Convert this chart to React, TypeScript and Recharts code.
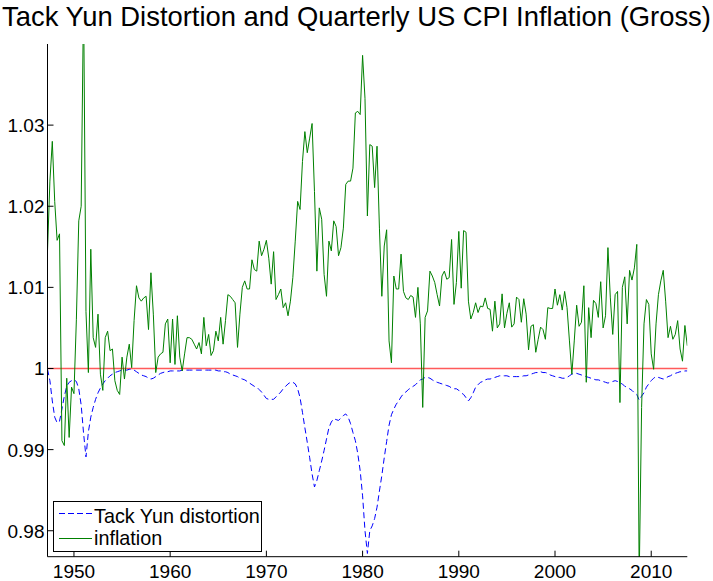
import React from 'react';
import { LineChart, Line, XAxis, YAxis, ReferenceLine, Legend } from 'recharts';

// quarterly observations, first one is 1947Q2
const startDate = 1947.25;

const inflation = [
  1.0145, 1.0231, 1.0280, 1.0206, 1.0158, 1.0166, 0.9911, 0.9905, 0.9988, 0.9915,
  0.9977, 0.9969, 1.0060, 1.0182, 1.0200, 1.0460, 1.0070, 0.9995, 1.0147, 1.0038,
  1.0026, 1.0067, 0.9993, 0.9973, 1.0038, 1.0046, 1.0022, 1.0024, 0.9985, 0.9973,
  0.9968, 1.0014, 0.9987, 1.0014, 1.0030, 1.0001, 1.0059, 1.0102, 1.0087, 1.0083,
  1.0087, 1.0089, 1.0048, 1.0118, 1.0067, 0.9995, 1.0014, 1.0018, 1.0020, 1.0055,
  1.0061, 1.0007, 1.0061, 1.0005, 1.0065, 1.0014, 0.9997, 1.0018, 1.0038, 1.0038,
  1.0036, 1.0030, 1.0024, 1.0032, 1.0018, 1.0063, 1.0028, 1.0042, 1.0016, 1.0022,
  1.0046, 1.0034, 1.0063, 1.0030, 1.0059, 1.0091, 1.0089, 1.0085, 1.0081, 1.0026,
  1.0067, 1.0100, 1.0108, 1.0098, 1.0098, 1.0134, 1.0122, 1.0120, 1.0157, 1.0139,
  1.0147, 1.0158, 1.0136, 1.0104, 1.0144, 1.0085, 1.0091, 1.0098, 1.0075, 1.0081,
  1.0065, 1.0083, 1.0112, 1.0157, 1.0206, 1.0196, 1.0255, 1.0292, 1.0266, 1.0284,
  1.0302, 1.0218, 1.0120, 1.0198, 1.0184, 1.0116, 1.0089, 1.0157, 1.0145, 1.0182,
  1.0175, 1.0139, 1.0149, 1.0173, 1.0227, 1.0231, 1.0231, 1.0247, 1.0315, 1.0317,
  1.0313, 1.0386, 1.0333, 1.0188, 1.0276, 1.0274, 1.0223, 1.0274, 1.0173, 1.0089,
  1.0151, 1.0171, 1.0034, 1.0007, 1.0114, 1.0098, 1.0098, 1.0141, 1.0095, 1.0087,
  1.0085, 1.0090, 1.0088, 1.0063, 1.0100, 1.0055, 0.9952, 1.0063, 1.0071, 1.0120,
  1.0114, 1.0106, 1.0091, 1.0077, 1.0114, 1.0120, 1.0110, 1.0112, 1.0159, 1.0079,
  1.0106, 1.0169, 1.0099, 1.0170, 1.0168, 1.0083, 1.0061, 1.0069, 1.0081, 1.0069,
  1.0077, 1.0076, 1.0087, 1.0074, 1.0073, 1.0046, 1.0083, 1.0050, 1.0055, 1.0092,
  1.0050, 1.0068, 1.0081, 1.0051, 1.0055, 1.0088, 1.0085, 1.0057, 1.0086, 1.0067,
  1.0023, 1.0052, 1.0054, 1.0020, 1.0036, 1.0051, 1.0048, 1.0036, 1.0075, 1.0074,
  1.0074, 1.0098, 1.0078, 1.0091, 1.0072, 1.0095, 1.0075, 1.0034, 0.9993, 1.0034,
  1.0078, 1.0052, 1.0057, 1.0102, 0.9983, 1.0075, 1.0038, 1.0084, 1.0080, 1.0063,
  1.0107, 1.0050, 1.0065, 1.0149, 1.0087, 1.0042, 1.0091, 1.0095, 0.9958, 1.0100,
  1.0113, 1.0055, 1.0121, 1.0109, 1.0124, 1.0153, 0.9740, 0.9952, 1.0055, 1.0085,
  1.0079, 1.0018, 0.9999, 1.0055, 1.0091, 1.0108, 1.0121, 1.0083, 1.0038, 1.0052,
  1.0036, 1.0042, 1.0059, 1.0024, 1.0009, 1.0053, 1.0028,
];

const distortion = [
  0.9999, 0.9985, 0.9960, 0.9940, 0.9933, 0.9935, 0.9950, 0.9966, 0.9978, 0.9983,
  0.9985, 0.9986, 0.9984, 0.9975, 0.9955, 0.9920, 0.9891, 0.9922, 0.9940, 0.9952,
  0.9962, 0.9970, 0.9976, 0.9981, 0.9985, 0.9988, 0.9991, 0.9993, 0.9995, 0.9996,
  0.9997, 0.9998, 0.9998, 0.9998, 0.9999, 0.9999, 0.9998, 0.9996, 0.9994, 0.9992,
  0.9991, 0.9990, 0.9988, 0.9987, 0.9988, 0.9990, 0.9992, 0.9994, 0.9995, 0.9996,
  0.9996, 0.9997, 0.9997, 0.9997, 0.9997, 0.9997, 0.9998, 0.9998, 0.9998, 0.9998,
  0.9998, 0.9998, 0.9998, 0.9998, 0.9998, 0.9998, 0.9998, 0.9998, 0.9998, 0.9998,
  0.9998, 0.9997, 0.9997, 0.9996, 0.9996, 0.9995, 0.9993, 0.9992, 0.9991, 0.9990,
  0.9988, 0.9987, 0.9986, 0.9984, 0.9982, 0.9980, 0.9978, 0.9977, 0.9974, 0.9971,
  0.9967, 0.9963, 0.9962, 0.9962, 0.9962, 0.9965, 0.9968, 0.9971, 0.9975, 0.9978,
  0.9981, 0.9983, 0.9983, 0.9981, 0.9975, 0.9964, 0.9946, 0.9927, 0.9909, 0.9890,
  0.9870, 0.9854, 0.9862, 0.9874, 0.9886, 0.9899, 0.9913, 0.9927, 0.9934, 0.9938,
  0.9937, 0.9936, 0.9939, 0.9942, 0.9944, 0.9940, 0.9932, 0.9921, 0.9911, 0.9895,
  0.9874, 0.9843, 0.9800, 0.9772, 0.9800, 0.9806, 0.9815, 0.9829, 0.9849, 0.9868,
  0.9890, 0.9910, 0.9930, 0.9943, 0.9950, 0.9956, 0.9960, 0.9965, 0.9969, 0.9971,
  0.9974, 0.9976, 0.9978, 0.9980, 0.9983, 0.9986, 0.9987, 0.9989, 0.9989, 0.9988,
  0.9986, 0.9984, 0.9983, 0.9982, 0.9981, 0.9980, 0.9979, 0.9978, 0.9976, 0.9975,
  0.9975, 0.9973, 0.9970, 0.9968, 0.9964, 0.9960, 0.9964, 0.9970, 0.9977, 0.9980,
  0.9983, 0.9984, 0.9986, 0.9987, 0.9987, 0.9988, 0.9989, 0.9990, 0.9991, 0.9991,
  0.9991, 0.9991, 0.9990, 0.9990, 0.9990, 0.9990, 0.9990, 0.9990, 0.9991, 0.9991,
  0.9992, 0.9993, 0.9994, 0.9995, 0.9995, 0.9996, 0.9995, 0.9995, 0.9994, 0.9992,
  0.9991, 0.9990, 0.9989, 0.9989, 0.9988, 0.9988, 0.9989, 0.9991, 0.9993, 0.9994,
  0.9994, 0.9993, 0.9992, 0.9991, 0.9990, 0.9989, 0.9988, 0.9987, 0.9986, 0.9986,
  0.9985, 0.9984, 0.9983, 0.9982, 0.9983, 0.9984, 0.9985, 0.9984, 0.9982, 0.9981,
  0.9978, 0.9977, 0.9975, 0.9973, 0.9970, 0.9968, 0.9961, 0.9966, 0.9970, 0.9977,
  0.9981, 0.9985, 0.9988, 0.9990, 0.9989, 0.9988, 0.9987, 0.9988, 0.9990, 0.9991,
  0.9993, 0.9994, 0.9995, 0.9996, 0.9996, 0.9997, 0.9997,
];

const xTicks = [1950, 1960, 1970, 1980, 1990, 2000, 2010];
const yTicks = [0.98, 0.99, 1, 1.01, 1.02, 1.03];

const FONT = '"Liberation Sans", Arial, Helvetica, sans-serif';

const data = inflation.map((v, i) => ({
  date: startDate + i / 4,
  inflation: v,
  distortion: distortion[i],
}));

// MATLAB style: ticks point into the plot box
const BottomTick = ({ x, y, payload }: any) => (
  <g>
    <line x1={x} y1={y} x2={x} y2={y - 6} stroke="#000" />
    <text x={x} y={y + 21} textAnchor="middle" fontSize={19} fontFamily={FONT} fill="#000">
      {payload.value}
    </text>
  </g>
);

const LeftTick = ({ x, y, payload }: any) => (
  <g>
    <line x1={x} y1={y} x2={x + 6} y2={y} stroke="#000" />
    <text x={x - 3} y={y + 7} textAnchor="end" fontSize={19} fontFamily={FONT} fill="#000">
      {String(payload.value)}
    </text>
  </g>
);

const TopTick = ({ x, y }: any) => <line x1={x} y1={y} x2={x} y2={y + 6} stroke="#000" />;
const RightTick = ({ x, y }: any) => <line x1={x} y1={y} x2={x - 6} y2={y} stroke="#000" />;

const LegendBox = () => (
  <svg width={210} height={52} style={{ display: 'block' }}>
    <rect x={0.5} y={0.5} width={208} height={50} fill="#fff" stroke="#000" />
    <line x1={6} y1={12.5} x2={39} y2={12.5} stroke="#0000ff" strokeDasharray="6 3" />
    <text x={41} y={21.5} fontSize={19.8} fontFamily={FONT} fill="#000">Tack Yun distortion</text>
    <line x1={6} y1={37.5} x2={39} y2={37.5} stroke="#008000" />
    <text x={41} y={44} fontSize={19.8} fontFamily={FONT} fill="#000">inflation</text>
  </svg>
);

export default function App() {
  return (
    <div style={{ position: 'absolute', left: 0, top: 0, width: 713, height: 581, background: '#fff' }}>
      <div
        style={{
          position: 'absolute',
          top: 2,
          left: 0,
          width: 713,
          textAlign: 'center',
          fontFamily: FONT,
          fontSize: 27.4,
          lineHeight: '30px',
          color: '#000',
          whiteSpace: 'nowrap',
        }}
      >
        Tack Yun Distortion and Quarterly US CPI Inflation (Gross)
      </div>
      <LineChart
        width={713}
        height={581}
        data={data}
        margin={{ top: 44, right: 25.7, bottom: 0, left: 0 }}
      >
        <XAxis
          xAxisId="bottom"
          dataKey="date"
          type="number"
          domain={[1947.25, 2013.75]}
          ticks={xTicks}
          interval={0}
          height={24.3}
          tickSize={0}
          tickMargin={0}
          tick={<BottomTick />}
          axisLine={{ stroke: '#000' }}
          allowDataOverflow
        />
        <XAxis
          xAxisId="top"
          orientation="top"
          dataKey="date"
          type="number"
          domain={[1947.25, 2013.75]}
          ticks={xTicks}
          interval={0}
          height={0}
          tickSize={0}
          tickMargin={0}
          tick={<TopTick />}
          axisLine={{ stroke: '#000' }}
          allowDataOverflow
        />
        <YAxis
          yAxisId="left"
          type="number"
          domain={[0.9768, 1.04]}
          ticks={yTicks}
          interval={0}
          width={47.5}
          tickSize={0}
          tickMargin={0}
          tick={<LeftTick />}
          axisLine={{ stroke: '#000' }}
          allowDataOverflow
        />
        <YAxis
          yAxisId="right"
          orientation="right"
          type="number"
          domain={[0.9768, 1.04]}
          ticks={yTicks}
          interval={0}
          width={0}
          tickSize={0}
          tickMargin={0}
          tick={<RightTick />}
          axisLine={{ stroke: '#000' }}
          allowDataOverflow
        />
        <ReferenceLine xAxisId="bottom" yAxisId="left" y={1} stroke="#ff5a5a" strokeWidth={1.6} />
        <Line
          xAxisId="bottom"
          yAxisId="left"
          type="linear"
          dataKey="distortion"
          name="Tack Yun distortion"
          stroke="#0000ff"
          strokeWidth={1}
          strokeDasharray="6 3.5"
          dot={false}
          isAnimationActive={false}
        />
        <Line
          xAxisId="bottom"
          yAxisId="left"
          type="linear"
          dataKey="inflation"
          name="inflation"
          stroke="#008000"
          strokeWidth={1}
          dot={false}
          isAnimationActive={false}
        />
        <Legend
          layout="horizontal"
          verticalAlign="middle"
          align="center"
          content={<LegendBox />}
          wrapperStyle={{ position: 'absolute', left: 53, top: 501, width: 210, height: 52 }}
        />
      </LineChart>
    </div>
  );
}
